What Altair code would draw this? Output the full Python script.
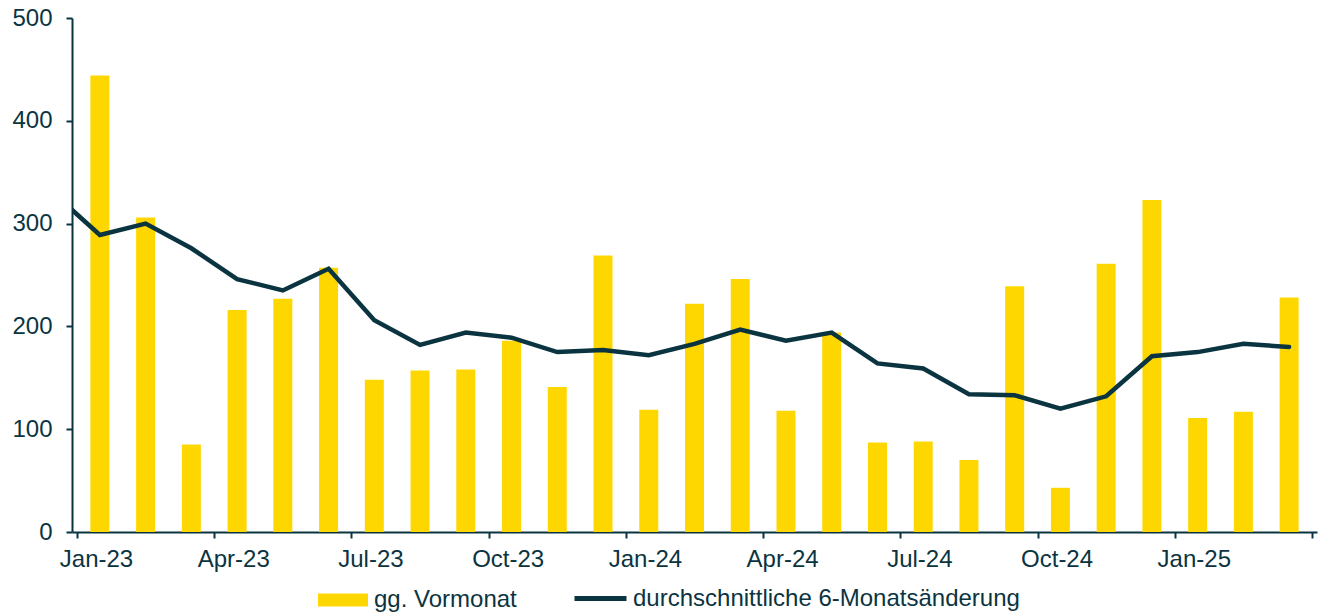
import altair as alt
import pandas as pd

months = ["Jan-23", "Feb-23", "Mar-23", "Apr-23", "May-23", "Jun-23", "Jul-23", "Aug-23", "Sep-23",
          "Oct-23", "Nov-23", "Dec-23", "Jan-24", "Feb-24", "Mar-24", "Apr-24", "May-24", "Jun-24",
          "Jul-24", "Aug-24", "Sep-24", "Oct-24", "Nov-24", "Dec-24", "Jan-25", "Feb-25", "Mar-25"]

mom = [444, 306, 85, 216, 227, 257, 148, 157, 158, 186, 141, 269, 119, 222, 246, 118, 194, 87,
       88, 70, 239, 43, 261, 323, 111, 117, 228]

# 6-month average change; first value is the (clipped) Dec-22 point
avg6_prev = 329
avg6 = [289, 300, 276, 246, 235, 256, 206, 182, 194, 189, 175, 177, 172, 183, 197, 186, 194, 164,
        159, 134, 133, 120, 132, 171, 175, 183, 180]

tick_labels = ["Jan-23", "Apr-23", "Jul-23", "Oct-23", "Jan-24", "Apr-24", "Jul-24", "Oct-24", "Jan-25", ""]

BAR_NAME = "gg. Vormonat"
LINE_NAME = "durchschnittliche 6-Monatsänderung"
DARK = "#0b3441"
GOLD = "#FFD700"
FONT = "Liberation Sans"

bars_df = pd.DataFrame({
    "pos": [i + 0.5 for i in range(len(months))],
    "month": months,
    "value": mom,
    "series": BAR_NAME,
})
line_df = pd.DataFrame({
    "pos": [-0.5] + [i + 0.5 for i in range(len(months))],
    "value": [avg6_prev] + avg6,
    "series": LINE_NAME,
})

label_arr = "[" + ",".join("'" + t + "'" for t in tick_labels) + "]"

x_enc = alt.X(
    "pos:Q",
    scale=alt.Scale(domain=[0, len(months)], nice=False, zero=False),
    axis=alt.Axis(
        title=None,
        values=list(range(0, len(months) + 1, 3)),
        labelExpr=label_arr + "[round(datum.value / 3)]",
        labelOffset=19,
        labelOverlap=False,
        labelFlush=False,
        labelBound=False,
        grid=False,
        tickSize=6,
        labelPadding=9,
    ),
)
y_enc = alt.Y(
    "value:Q",
    scale=alt.Scale(domain=[0, 500], nice=False),
    axis=alt.Axis(title=None, values=[0, 100, 200, 300, 400, 500], grid=False, tickSize=6, labelPadding=14),
)

bars = alt.Chart(bars_df).mark_bar(width=19).encode(
    x=x_enc,
    y=y_enc,
    fill=alt.Fill(
        "series:N",
        scale=alt.Scale(domain=[BAR_NAME], range=[GOLD]),
        legend=alt.Legend(
            title=None,
            orient="none",
            legendX=246,
            legendY=557,
            symbolType="M-1,-0.26H1V0.26H-1Z",
            symbolSize=2500,
            symbolStrokeWidth=0,
            labelOffset=6,
            labelLimit=1000,
        ),
    ),
)

line = alt.Chart(line_df).mark_line(strokeWidth=4.5, clip=True, strokeCap="round").encode(
    x="pos:Q",
    y="value:Q",
    stroke=alt.Stroke(
        "series:N",
        scale=alt.Scale(domain=[LINE_NAME], range=[DARK]),
        legend=alt.Legend(
            title=None,
            orient="none",
            legendX=500,
            legendY=552,
            symbolType="stroke",
            symbolSize=2704,
            symbolStrokeWidth=5,
            labelOffset=4,
            labelLimit=1000,
        ),
    ),
)

chart = alt.layer(bars, line).properties(
    width=1245,
    height=514,
    autosize=alt.AutoSizeParams(type="none"),
    padding={"left": 72, "top": 18, "right": 2, "bottom": 83},
).configure_view(stroke=None).configure_axis(
    domainColor=DARK,
    domainWidth=2,
    tickColor=DARK,
    tickWidth=2,
    labelColor=DARK,
    labelFont=FONT,
    labelFontSize=24,
).configure_legend(
    labelColor=DARK,
    labelFont=FONT,
    labelFontSize=24,
    labelLimit=1000,
    padding=0,
)

chart.save("out.html", embed_options={"renderer": "svg", "actions": False})
